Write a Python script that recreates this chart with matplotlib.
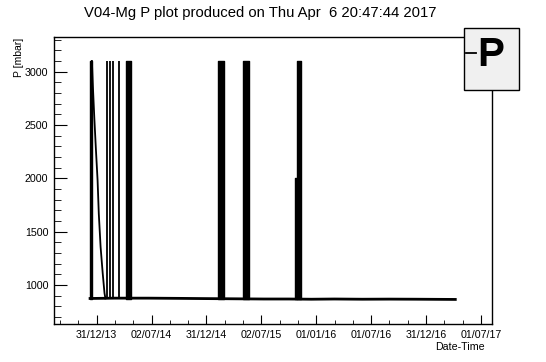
import matplotlib
matplotlib.use("Agg")
import matplotlib.pyplot as plt
from matplotlib.patches import Rectangle
from matplotlib.lines import Line2D
import pandas as pd

plt.rcParams["font.family"] = ["Liberation Sans", "DejaVu Sans"]

# baseline pressure
base_dates = ["2013-12-09", "2014-03-01", "2014-06-20", "2014-10-01", "2014-12-20",
              "2015-04-01", "2015-07-10", "2015-10-01", "2015-12-15", "2016-03-01",
              "2016-06-01", "2016-09-01", "2016-12-01", "2017-02-01", "2017-04-07"]
base_vals = [875, 878, 878, 876, 874,
             872, 870, 870, 868, 870,
             868, 869, 868, 867, 866]

# slow pump-down after the first fill
decay_dates = ["2013-12-15", "2013-12-18", "2013-12-23", "2013-12-28", "2014-01-03",
               "2014-01-07", "2014-01-13", "2014-01-20", "2014-01-26", "2014-01-29"]
decay_vals = [3100, 2885, 2573, 2293, 1981, 1670, 1358, 1112, 925, 875]

# single fills
spike_dates = ["2014-02-02", "2014-02-13", "2014-02-24", "2014-03-16"]
spike_top = 3100

# dense fill periods (start, end, top value)
block_start = ["2013-12-09", "2014-04-07", "2015-02-08", "2015-05-02", "2015-10-22", "2015-10-27"]
block_end = ["2013-12-15", "2014-04-23", "2015-02-28", "2015-05-22", "2015-10-27", "2015-11-11"]
block_top = [3100, 3100, 3100, 3100, 2000, 3100]
low_level = 872

major_dates = ["2013-12-31", "2014-07-02", "2014-12-31", "2015-07-02",
               "2016-01-01", "2016-07-01", "2016-12-31", "2017-07-01"]
major_labels = ["31/12/13", "02/07/14", "31/12/14", "02/07/15",
                "01/01/16", "01/07/16", "31/12/16", "01/07/17"]


def make_plot():
    fig = plt.figure(figsize=(5.46, 3.62), dpi=100)
    ax = fig.add_axes([0.0989, 0.105, 0.8016, 0.7936])

    ax.plot(pd.to_datetime(base_dates), base_vals, color="black", lw=2)
    ax.plot(pd.to_datetime(decay_dates), decay_vals, color="black", lw=1.3)
    ax.vlines(pd.to_datetime(spike_dates), low_level, spike_top, color="black", lw=1.3)
    for s, e, t in zip(block_start, block_end, block_top):
        ax.fill_between(pd.to_datetime([s, e]), low_level, t, color="black", lw=1)

    ax.set_xlim(pd.Timestamp("2013-08-11"), pd.Timestamp("2017-08-06"))
    ax.set_ylim(636, 3327)

    majors = pd.to_datetime(major_dates)
    ax.set_xticks(majors)
    ax.set_xticklabels(major_labels)
    minors = []
    step = majors[1] - majors[0]
    minors.append(majors[0] - step / 3)
    minors.append(majors[0] - 2 * step / 3)
    for a, b in zip(majors[:-1], majors[1:]):
        minors.append(a + (b - a) / 3)
        minors.append(a + 2 * (b - a) / 3)
    ax.set_xticks(minors, minor=True)

    ax.set_yticks([1000, 1500, 2000, 2500, 3000])
    ax.set_yticks(range(700, 3301, 100), minor=True)

    ax.tick_params(axis="both", which="both", direction="in", labelsize=7.7,
                   top=False, right=False)
    ax.tick_params(axis="y", which="major", length=9.4, pad=4)
    ax.tick_params(axis="y", which="minor", length=4.7)
    ax.tick_params(axis="x", which="major", length=6.2, pad=4)
    ax.tick_params(axis="x", which="minor", length=3.1)
    for sp in ax.spines.values():
        sp.set_linewidth(1)

    fig.text(260 / 546, 1 - 13.5 / 362,
             "V04-Mg P plot produced on Thu Apr  6 20:47:44 2017",
             ha="center", va="center", fontsize=10.7)
    fig.text(19 / 546, 1 - 38 / 362, "P [mbar]", rotation=90,
             ha="center", va="top", fontsize=7.5)
    fig.text(485 / 546, 1 - 347 / 362, "Date-Time", ha="right",
             va="center", fontsize=7.7)

    # legend box
    fig.add_artist(Rectangle((464 / 546, 1 - 90 / 362), 54.5 / 546, 62 / 362,
                             transform=fig.transFigure, facecolor="#f0f0f0",
                             edgecolor="black", lw=1))
    fig.add_artist(Line2D([466 / 546, 476 / 546], [1 - 53 / 362, 1 - 53 / 362],
                          transform=fig.transFigure, color="black", lw=1.3))
    fig.text(491 / 546, 1 - 55.5 / 362, "P", ha="center", va="center",
             fontsize=29, fontweight="bold")

    fig.savefig("out.png", dpi=100)


if __name__ == "__main__":
    make_plot()
